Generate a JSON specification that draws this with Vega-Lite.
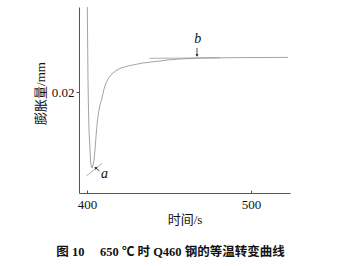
{
  "$schema": "https://vega.github.io/schema/vega-lite/v6.json",
  "autosize": "none",
  "width": 211,
  "height": 186,
  "padding": {"left": 79, "top": 7, "right": 49, "bottom": 73},
  "background": "white",
  "config": {
    "view": {"stroke": null},
    "axis": {"grid": false, "domainColor": "#555", "tickColor": "#555", "labelColor": "#111", "titleColor": "#111", "labelFont": "Liberation Serif", "labelFontSize": 13, "titleFont": "Liberation Serif, 'Noto Sans CJK SC'", "titleFontSize": 13, "titleFontWeight": "normal"}
  },
  "title": {
    "text": "图 10　 650 ℃ 时 Q460 钢的等温转变曲线",
    "orient": "bottom",
    "anchor": "middle",
    "font": "Liberation Serif, 'Noto Sans CJK SC'",
    "fontSize": 12.5,
    "fontWeight": "bold",
    "color": "#111",
    "offset": 20,
    "dx": -14
  },
  "datasets": {
    "curve": [
      {"i": 1, "t": 400.18, "v": 0.0285},
      {"i": 2, "t": 400.37, "v": 0.0252},
      {"i": 3, "t": 400.61, "v": 0.0212},
      {"i": 4, "t": 400.91, "v": 0.0182},
      {"i": 5, "t": 401.22, "v": 0.0162},
      {"i": 6, "t": 401.83, "v": 0.0142},
      {"i": 7, "t": 402.26, "v": 0.0129},
      {"i": 8, "t": 402.74, "v": 0.0125},
      {"i": 9, "t": 403.05, "v": 0.0124},
      {"i": 10, "t": 403.66, "v": 0.0127},
      {"i": 11, "t": 404.27, "v": 0.0132},
      {"i": 12, "t": 404.88, "v": 0.0142},
      {"i": 13, "t": 405.67, "v": 0.0159},
      {"i": 14, "t": 406.40, "v": 0.0172},
      {"i": 15, "t": 407.32, "v": 0.0182},
      {"i": 16, "t": 407.93, "v": 0.0187},
      {"i": 17, "t": 409.15, "v": 0.0194},
      {"i": 18, "t": 410.37, "v": 0.0203},
      {"i": 19, "t": 411.59, "v": 0.0209},
      {"i": 20, "t": 412.80, "v": 0.0213},
      {"i": 21, "t": 414.02, "v": 0.0216},
      {"i": 22, "t": 415.85, "v": 0.0219},
      {"i": 23, "t": 418.29, "v": 0.0222},
      {"i": 24, "t": 420.73, "v": 0.0224},
      {"i": 25, "t": 425.00, "v": 0.0226},
      {"i": 26, "t": 429.27, "v": 0.02275},
      {"i": 27, "t": 434.15, "v": 0.0229},
      {"i": 28, "t": 439.02, "v": 0.0230},
      {"i": 29, "t": 444.51, "v": 0.0231},
      {"i": 30, "t": 448.78, "v": 0.0232},
      {"i": 31, "t": 456.71, "v": 0.0233},
      {"i": 32, "t": 462.80, "v": 0.02335},
      {"i": 33, "t": 468.90, "v": 0.0234},
      {"i": 34, "t": 481.10, "v": 0.02342},
      {"i": 35, "t": 493.29, "v": 0.02344},
      {"i": 36, "t": 505.49, "v": 0.02345},
      {"i": 37, "t": 522.56, "v": 0.02346}
    ],
    "tangents": [
      {"name": "a", "t": 399.57, "v": 0.0116, "t2": 409.15, "v2": 0.01287},
      {"name": "b", "t": 437.99, "v": 0.02337, "t2": 481.10, "v2": 0.02342}
    ],
    "arrows": [
      {"name": "a", "t": 407.62, "v": 0.0121, "t2": 405.2, "v2": 0.01242, "ang": 305},
      {"name": "b", "t": 467.07, "v": 0.0244, "t2": 467.07, "v2": 0.02365, "ang": 180}
    ],
    "labels": [
      {"label": "a", "t": 410.6, "v": 0.0118},
      {"label": "b", "t": 467.6, "v": 0.0253}
    ]
  },
  "layer": [
    {
      "data": {"name": "tangents"},
      "mark": {"type": "rule", "color": "#9a9a9a", "strokeWidth": 0.8},
      "encoding": {
        "x": {"field": "t", "type": "quantitative", "scale": {"domain": [395.12, 523.78], "nice": false, "zero": false},
          "axis": {"values": [400, 500], "title": "时间/s", "tickSize": -3, "labelPadding": 8, "titlePadding": 2}},
        "y": {"field": "v", "type": "quantitative", "scale": {"domain": [0.0099, 0.0285], "nice": false, "zero": false},
          "axis": {"values": [0.02], "format": ".2f", "title": "膨胀量/mm", "tickSize": 3, "labelPadding": 2, "titleX": -32, "titleY": 86}},
        "x2": {"field": "t2"},
        "y2": {"field": "v2"}
      }
    },
    {
      "data": {"name": "curve"},
      "mark": {"type": "line", "color": "#8c8c8c", "strokeWidth": 0.8, "clip": true},
      "encoding": {
        "x": {"field": "t", "type": "quantitative"},
        "y": {"field": "v", "type": "quantitative"},
        "order": {"field": "i", "type": "quantitative"}
      }
    },
    {
      "data": {"name": "arrows"},
      "mark": {"type": "rule", "color": "#222", "strokeWidth": 0.8},
      "encoding": {
        "x": {"field": "t", "type": "quantitative"},
        "y": {"field": "v", "type": "quantitative"},
        "x2": {"field": "t2"},
        "y2": {"field": "v2"}
      }
    },
    {
      "data": {"name": "arrows"},
      "mark": {"type": "point", "shape": "triangle-up", "filled": true, "color": "#222", "size": 10, "opacity": 1},
      "encoding": {
        "x": {"field": "t2", "type": "quantitative"},
        "y": {"field": "v2", "type": "quantitative"},
        "angle": {"field": "ang", "type": "quantitative", "scale": null}
      }
    },
    {
      "data": {"name": "labels"},
      "mark": {"type": "text", "font": "Liberation Serif", "fontStyle": "italic", "fontSize": 14, "color": "#111"},
      "encoding": {
        "x": {"field": "t", "type": "quantitative"},
        "y": {"field": "v", "type": "quantitative"},
        "text": {"field": "label"}
      }
    }
  ]
}
